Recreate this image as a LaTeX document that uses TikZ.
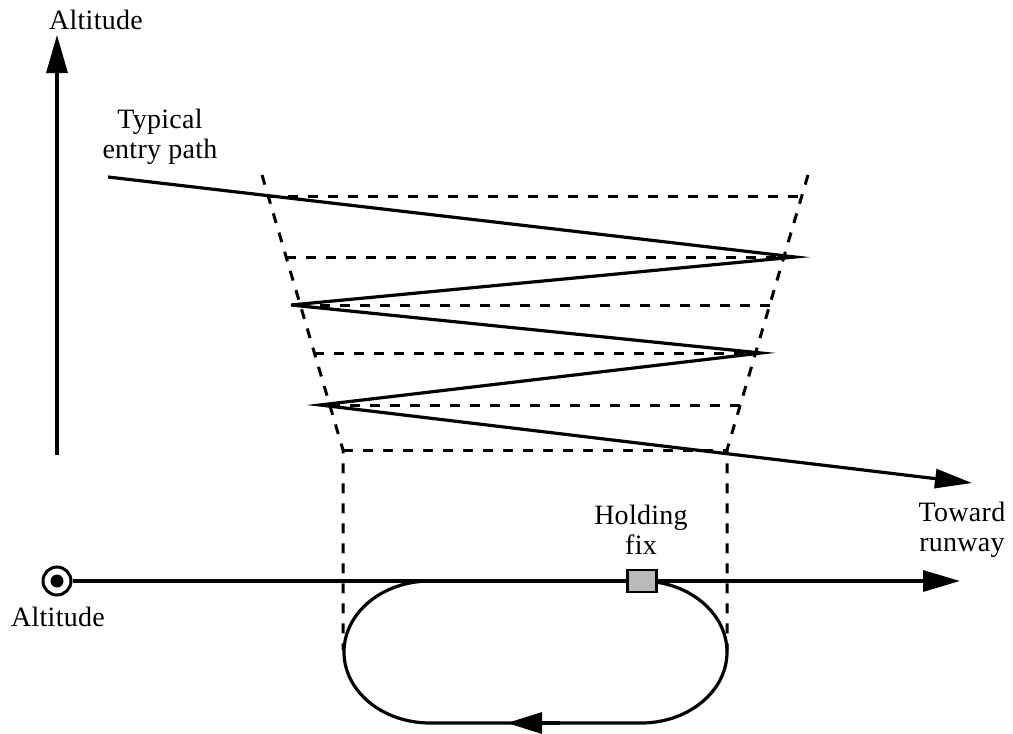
\documentclass[tikz,border=0pt]{standalone}
\usepackage{fontspec}
\setmainfont{Liberation Serif}[LetterSpace=1]
\usetikzlibrary{arrows.meta,calc}
\begin{document}
\begin{tikzpicture}[x=1pt,y=-1pt,
  solidline/.style={line width=3.2pt},
  dashline/.style={line width=3pt, dash pattern=on 10pt off 10pt},
  lbl/.style={font=\fontsize{28}{30}\selectfont, align=center, inner sep=0pt}]
\useasboundingbox (0,0) rectangle (1013,734);

% labels
\node[lbl, anchor=base] (altTop) at (96,29) {Altitude};
\node[lbl] (entry) at (160,137) {Typical\\entry path};
\node[lbl] (hold) at (641,530) {Holding\\fix};
\node[lbl] (toward) at (962,530) {Toward\\runway};
\node[lbl, anchor=base] (altBot) at (58,626) {Altitude};

% vertical altitude axis
\coordinate (vb) at (57,455);
\coordinate (vt) at (57,35);
\draw[solidline, -{Triangle[length=38pt,width=21pt]}] (vb) -- (vt);

% dashed trapezoid
\coordinate (tl) at (262,175);
\coordinate (bl) at (343,450);
\coordinate (tr) at (808,175);
\coordinate (br) at (727,450);
\coordinate (bl2) at (343,650);
\coordinate (br2) at (727,650);
\draw[dashline] (tl) -- (bl) -- (bl2);
\draw[dashline] (tr) -- (br) -- (br2);
\draw[dashline] (bl) -- (br);
\foreach \yy in {197,257,305,353,405}
  \draw[dashline] ($(tl)!{(\yy-175)/275}!(bl)$) -- ($(tr)!{(\yy-175)/275}!(br)$);

% zigzag descent path
\coordinate (z0) at (108,177);
\coordinate (z1) at (795,257);
\coordinate (z2) at (291,305);
\coordinate (z3) at (761,353);
\coordinate (z4) at (320,405);
\coordinate (z5) at (972,483);
\draw[solidline, -{Triangle[length=37pt,width=19pt]}] (z0) -- (z1) -- (z2) -- (z3) -- (z4) -- (z5);

% plan view: altitude symbol and course line
\node[draw, circle, line width=3pt, minimum size=28pt, inner sep=0pt] (alt) at (57,581) {};
\fill (alt.center) circle (6.5pt);
\coordinate (rw) at (960,581);
\draw[solidline, -{Triangle[length=37pt,width=21pt]}] (alt.east) -- (rw);

% holding racetrack
\draw[solidline] (430,581) arc[start angle=-90, end angle=-270, x radius=86, y radius=71]
  -- (641,723) arc[start angle=90, end angle=-90, x radius=86, y radius=71];
\coordinate (a1) at (560,723);
\coordinate (a2) at (507,723);
\draw[solidline, -{Triangle[length=35pt,width=21pt]}] (a1) -- (a2);

% holding fix
\node[draw, fill=gray!55, line width=2.6pt, minimum width=29pt, minimum height=22pt, inner sep=0pt] (fix) at (642,581) {};
\end{tikzpicture}
\end{document}
